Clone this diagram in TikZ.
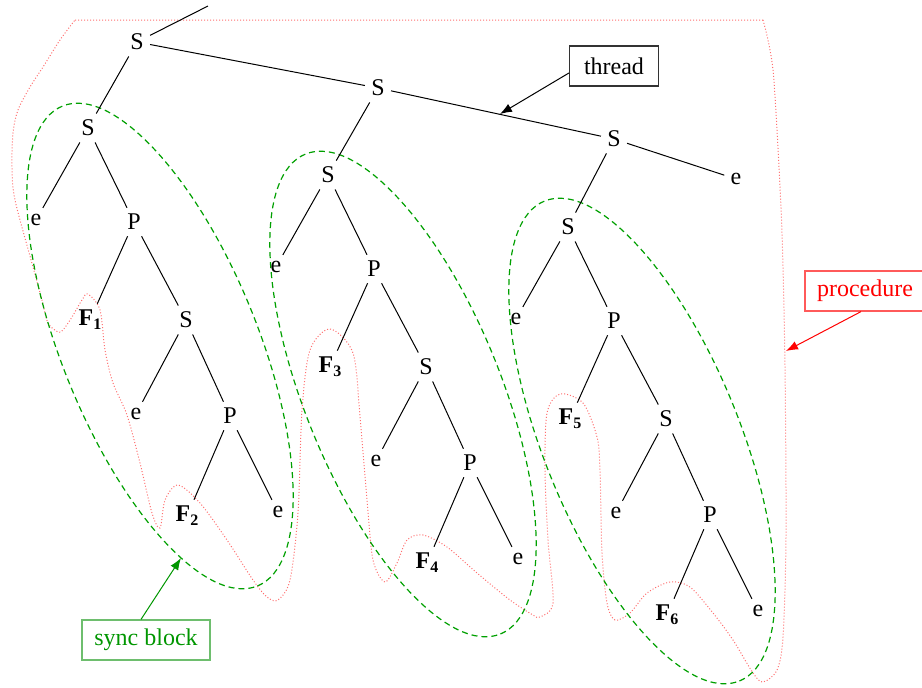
\documentclass[tikz,border=0pt]{standalone}
\usepackage{fontspec}
\setmainfont{Liberation Serif}
\usetikzlibrary{arrows.meta}
\definecolor{syncgreen}{RGB}{0,150,0}
\definecolor{syncline}{RGB}{0,160,0}
\definecolor{syncbox}{RGB}{110,190,110}
\definecolor{procred}{RGB}{255,0,0}
\definecolor{procline}{RGB}{255,110,110}
\definecolor{procbox}{RGB}{255,90,90}
\newcommand{\Fl}[1]{\textbf{F}\raisebox{-2pt}{\fontsize{8}{9}\selectfont\bfseries #1}}
\tikzset{
  lab/.style={inner sep=3pt},
  tree/.style={line width=0.5pt, black},
  sync/.style={draw=syncline, line width=0.6pt, dash pattern=on 3pt off 2pt},
  proc/.style={draw=procline, line width=0.5pt, dash pattern=on 0.5pt off 1pt},
  labelbox/.style={draw, line width=0.6pt, minimum height=20pt, inner sep=2pt}
}
\newcommand{\mysubtree}[5]{%
\begin{scope}[shift={(#2,#3)}, name prefix=#1-]
  \node[lab] (S) at (0,0) {S};
  \node[lab] (e1) at (-52,92) {e};
  \node[lab] (P) at (46,94) {P};
  \node[lab] (F) at (2,192) {\Fl{#4}};
  \node[lab] (S2) at (98,192) {S};
  \node[lab] (e2) at (48,286) {e};
  \node[lab] (P2) at (142,288) {P};
  \node[lab] (F2) at (99,388) {\Fl{#5}};
  \node[lab] (e3) at (190,384) {e};
  \draw[tree] (S) -- (e1) (S) -- (P) (P) -- (F) (P) -- (S2)
              (S2) -- (e2) (S2) -- (P2) (P2) -- (F2) (P2) -- (e3);
\end{scope}}
\begin{document}
\begin{tikzpicture}[x=0.5pt,y=-0.5pt,font=\fontsize{12}{14}\selectfont]
\useasboundingbox (0,0) rectangle (922,687);
% procedure outline
\draw[proc] (75,20) -- (763,20)
  plot[smooth, tension=0.5] coordinates {(763,20) (768,40) (773,70) (777,130) (782,233) (785,367) (786,537) (783,637) (777,670) (763,682) (753,673) (733,640) (713,613) (690,587) (670,582) (647,593) (630,613) (615,620) (607,603) (602,553) (600,470) (597,437) (583,403) (560,394) (547,413) (545,470) (548,540) (553,603) (540,617) (533,615) (510,600) (477,573) (447,547) (423,535) (407,540) (397,563) (385,582) (373,560) (367,500) (360,417) (353,353) (330,329) (310,350) (302,410) (298,513) (290,580) (278,600) (267,597) (253,580) (227,540) (200,503) (178,485) (165,500) (160,528) (152,513) (140,463) (127,415) (113,383) (105,350) (100,310) (88,294) (82,300) (72,317) (63,330) (58,332) (48,323) (42,300) (33,267) (15,200) (12,167) (13,133) (18,110) (30,87) (43,67) (60,40) (75,20)};
% sync blocks
\draw[sync, rotate around={-67.9:(160,346)}] (160,346) ellipse [x radius=129.5pt, y radius=49pt];
\draw[sync, rotate around={-67.9:(403,394)}] (403,394) ellipse [x radius=129.5pt, y radius=49pt];
\draw[sync, rotate around={-67.9:(642,441)}] (642,441) ellipse [x radius=129.5pt, y radius=49pt];
% spine
\node[lab] (sA) at (137,42) {S};
\node[lab] (sB) at (378,88) {S};
\node[lab] (sC) at (614,139) {S};
\node[lab] (eEnd) at (736,179) {e};
\coordinate (top) at (208,6);
\draw[tree] (sA) -- (top) (sA) -- (sB) (sB) -- (sC) (sC) -- (eEnd);
\mysubtree{a}{88}{128}{1}{2}
\mysubtree{b}{328}{175}{3}{4}
\mysubtree{c}{568}{227}{5}{6}
\draw[tree] (sA) -- (a-S) (sB) -- (b-S) (sC) -- (c-S);
% labels
\node[labelbox, draw=black!80, minimum width=44.5pt] (thread) at (614,66) {thread};
\coordinate (threadtip) at (500,114);
\draw[tree, -{Latex[length=6pt,width=4.5pt]}] ([yshift=-3.5pt]thread.west) -- (threadtip);
\node[labelbox, draw=procbox, text=procred, minimum width=60pt] (proc) at (865,291) {procedure};
\coordinate (proctip) at (786,351);
\draw[procred, line width=0.5pt, -{Latex[length=6pt,width=4.5pt]}] ([xshift=-2pt]proc.south) -- (proctip);
\node[labelbox, draw=syncbox, text=syncgreen, minimum width=64pt] (syncb) at (146,640) {sync block};
\coordinate (synctip) at (181,558);
\draw[syncgreen, line width=0.5pt, -{Latex[length=6pt,width=4.5pt]}] ([xshift=-2.5pt]syncb.north) -- (synctip);
\end{tikzpicture}
\end{document}
